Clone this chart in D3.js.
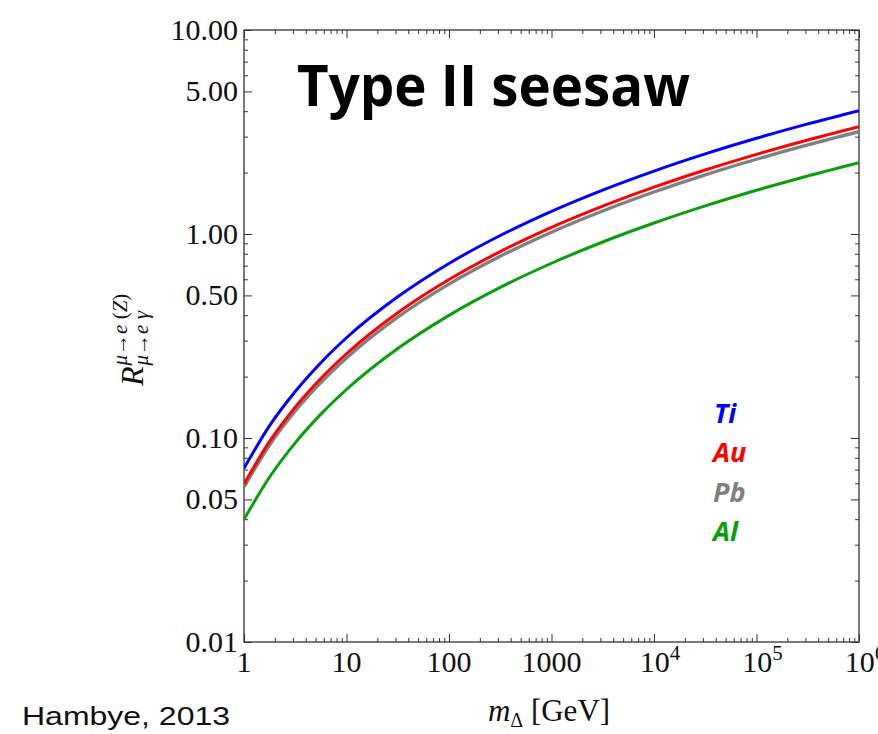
<!DOCTYPE html>
<html>
<head>
<meta charset="utf-8">
<script src="https://cdn.jsdelivr.net/npm/d3@7"></script>
<style>
  html, body { margin: 0; padding: 0; background: #ffffff; }
  svg { display: block; }
</style>
</head>
<body>
<svg id="chart" width="878" height="734"></svg>
<script>
// ---------- data ----------
const massValues = [1, 1.778, 3.162, 5.623, 10, 31.62, 100, 316.2, 1000, 3162, 1e4, 31623, 1e5, 316228, 1e6];
const tiValues = [0.0710, 0.115, 0.169, 0.234, 0.310, 0.492, 0.717, 0.983, 1.292, 1.642, 2.035, 2.470, 2.946, 3.465, 4.026];
const auValues = [0.0595, 0.0962, 0.1417, 0.1958, 0.2588, 0.411, 0.598, 0.820, 1.078, 1.370, 1.697, 2.060, 2.457, 2.890, 3.357];
const pbValues = [0.0575, 0.0924, 0.1356, 0.1870, 0.2467, 0.391, 0.568, 0.778, 1.021, 1.297, 1.606, 1.949, 2.324, 2.732, 3.173];
const alValues = [0.0399, 0.0644, 0.0947, 0.1309, 0.1729, 0.2744, 0.3992, 0.5473, 0.7188, 0.9136, 1.1317, 1.3731, 1.6379, 1.926, 2.2374];

const seriesNames = ["Ti", "Au", "Pb", "Al"];
const seriesColors = ["#0000ff", "#ff0000", "#808080", "#0a9e0a"];

const yTickValues = [0.01, 0.05, 0.1, 0.5, 1, 5, 10];
const yTickLabels = ["0.01", "0.05", "0.10", "0.50", "1.00", "5.00", "10.00"];
const xTickValues = [1, 10, 100, 1000, 1e4, 1e5, 1e6];
const xTickBase = ["1", "10", "100", "1000", "10", "10", "10"];
const xTickExp = ["", "", "", "", "4", "5", "6"];

// ---------- layout ----------
const svg = d3.select("#chart");
const pLeft = 244, pRight = 859, pTop = 30, pBottom = 642;

const x = d3.scaleLog().domain([1, 1e6]).range([pLeft, pRight]);
const y = d3.scaleLog().domain([0.01, 10]).range([pBottom, pTop]);

// minor tick positions
const xMinor = [];
for (let d = 1; d < 1e6; d *= 10) for (let k = 2; k <= 9; k++) xMinor.push(k * d);
const yMinor = [];
for (let d = 0.01; d < 9; d *= 10) for (let k = 2; k <= 9; k++) if (k !== 5) yMinor.push(+(k * d).toPrecision(3));

const axisColor = "#333";
function styleAxis(g) {
  g.select(".domain").remove();
  g.selectAll(".tick line").attr("stroke", axisColor).attr("stroke-width", 1);
  g.selectAll(".tick text").remove();
}

// bottom
svg.append("g").attr("transform", `translate(0,${pBottom})`)
  .call(d3.axisBottom(x).tickValues(xMinor).tickSize(-4).tickFormat("")).call(styleAxis);
svg.append("g").attr("transform", `translate(0,${pBottom})`)
  .call(d3.axisBottom(x).tickValues(xTickValues).tickSize(-8).tickFormat("")).call(styleAxis);
// top
svg.append("g").attr("transform", `translate(0,${pTop})`)
  .call(d3.axisTop(x).tickValues(xMinor).tickSize(-4).tickFormat("")).call(styleAxis);
svg.append("g").attr("transform", `translate(0,${pTop})`)
  .call(d3.axisTop(x).tickValues(xTickValues).tickSize(-8).tickFormat("")).call(styleAxis);
// left
svg.append("g").attr("transform", `translate(${pLeft},0)`)
  .call(d3.axisLeft(y).tickValues(yMinor).tickSize(-4).tickFormat("")).call(styleAxis);
svg.append("g").attr("transform", `translate(${pLeft},0)`)
  .call(d3.axisLeft(y).tickValues(yTickValues).tickSize(-8).tickFormat("")).call(styleAxis);
// right
svg.append("g").attr("transform", `translate(${pRight},0)`)
  .call(d3.axisRight(y).tickValues(yMinor).tickSize(-4).tickFormat("")).call(styleAxis);
svg.append("g").attr("transform", `translate(${pRight},0)`)
  .call(d3.axisRight(y).tickValues(yTickValues).tickSize(-8).tickFormat("")).call(styleAxis);

// frame
svg.append("rect")
  .attr("x", pLeft).attr("y", pTop)
  .attr("width", pRight - pLeft).attr("height", pBottom - pTop)
  .attr("fill", "none").attr("stroke", axisColor).attr("stroke-width", 1.3);

// ---------- curves ----------
svg.append("clipPath").attr("id", "plotclip")
  .append("rect").attr("x", pLeft).attr("y", pTop).attr("width", pRight - pLeft).attr("height", pBottom - pTop);

const line = d3.line()
  .x(d => x(d[0]))
  .y(d => y(d[1]))
  .curve(d3.curveMonotoneX);

const allSeries = [tiValues, auValues, pbValues, alValues];
const drawOrder = [3, 2, 1, 0];
const curves = svg.append("g").attr("clip-path", "url(#plotclip)");
drawOrder.forEach(i => {
  const pts = massValues.map((m, j) => [m, allSeries[i][j]]);
  curves.append("path")
    .attr("d", line(pts))
    .attr("fill", "none")
    .attr("stroke", seriesColors[i])
    .attr("stroke-width", i === 2 ? 3.3 : 3)
    .attr("stroke-linecap", "butt");
});

// ---------- tick labels ----------
const serif = "'Liberation Serif', 'Times New Roman', Times, serif";
svg.append("g").selectAll("text")
  .data(yTickValues)
  .join("text")
  .attr("x", 238)
  .attr("y", d => y(d) + 10)
  .attr("text-anchor", "end")
  .attr("font-family", serif)
  .attr("font-size", 30)
  .attr("fill", "#111")
  .text((d, i) => yTickLabels[i]);

const xl = svg.append("g").selectAll("text")
  .data(xTickValues)
  .join("text")
  .attr("x", d => x(d))
  .attr("y", 672)
  .attr("text-anchor", "middle")
  .attr("font-family", serif)
  .attr("font-size", 30)
  .attr("fill", "#111");
xl.append("tspan").text((d, i) => xTickBase[i]);
xl.append("tspan").attr("font-size", 21).attr("dy", -12).text((d, i) => xTickExp[i]);
xl.filter((d, i) => xTickExp[i] !== "").attr("dx", 6);

// ---------- axis titles ----------
const xt = svg.append("text")
  .attr("x", 549).attr("y", 721)
  .attr("text-anchor", "middle")
  .attr("font-family", serif)
  .attr("font-size", 31)
  .attr("fill", "#111");
xt.append("tspan").attr("font-style", "italic").text("m");
xt.append("tspan").attr("font-size", 20).attr("dy", 6).text("Δ");
xt.append("tspan").attr("dy", -6).text(" [GeV]");

const yl = svg.append("g").attr("transform", "translate(143,386) rotate(-90)");
const rT = yl.append("text")
  .attr("x", 0).attr("y", 0)
  .attr("font-family", serif).attr("font-style", "italic")
  .attr("font-size", 32).attr("fill", "#111").text("R");
const rw = rT.node().getComputedTextLength();
const supT = yl.append("text")
  .attr("x", rw + 1).attr("y", -16)
  .attr("font-family", serif).attr("font-size", 21).attr("fill", "#111");
supT.append("tspan").attr("font-style", "italic").text("μ");
supT.append("tspan").text("→");
supT.append("tspan").attr("font-style", "italic").text("e");
supT.append("tspan").text(" (");
supT.append("tspan").attr("font-style", "italic").text("Z");
supT.append("tspan").text(")");
const subT = yl.append("text")
  .attr("x", rw + 1).attr("y", 5)
  .attr("font-family", serif).attr("font-size", 21).attr("fill", "#111");
subT.append("tspan").attr("font-style", "italic").text("μ");
subT.append("tspan").text("→");
subT.append("tspan").attr("font-style", "italic").text("e γ");

// ---------- title ----------
svg.append("text")
  .attr("x", 297).attr("y", 106)
  .attr("font-family", "'Open Sans', 'Noto Sans', sans-serif")
  .attr("font-weight", 700)
  .attr("font-size", 58)
  .attr("textLength", 393)
  .attr("lengthAdjust", "spacingAndGlyphs")
  .attr("fill", "#000")
  .text("Type II seesaw");

// ---------- legend ----------
const legendY = [423, 462, 502, 541];
const legendX = [714, 713, 713, 713];
svg.append("g").selectAll("text")
  .data(seriesNames)
  .join("text")
  .attr("x", (d, i) => legendX[i])
  .attr("y", (d, i) => legendY[i])
  .attr("font-family", "'Open Sans', 'Noto Sans', sans-serif")
  .attr("font-weight", 700)
  .attr("font-style", "italic")
  .attr("font-size", 27)
  .attr("fill", (d, i) => seriesColors[i])
  .text(d => d);

// ---------- credit ----------
svg.append("text")
  .attr("x", 22).attr("y", 725)
  .attr("font-family", "'Liberation Sans', Arial, Helvetica, sans-serif")
  .attr("font-size", 25)
  .attr("textLength", 208)
  .attr("lengthAdjust", "spacingAndGlyphs")
  .attr("fill", "#111")
  .text("Hambye, 2013");
</script>
</body>
</html>
